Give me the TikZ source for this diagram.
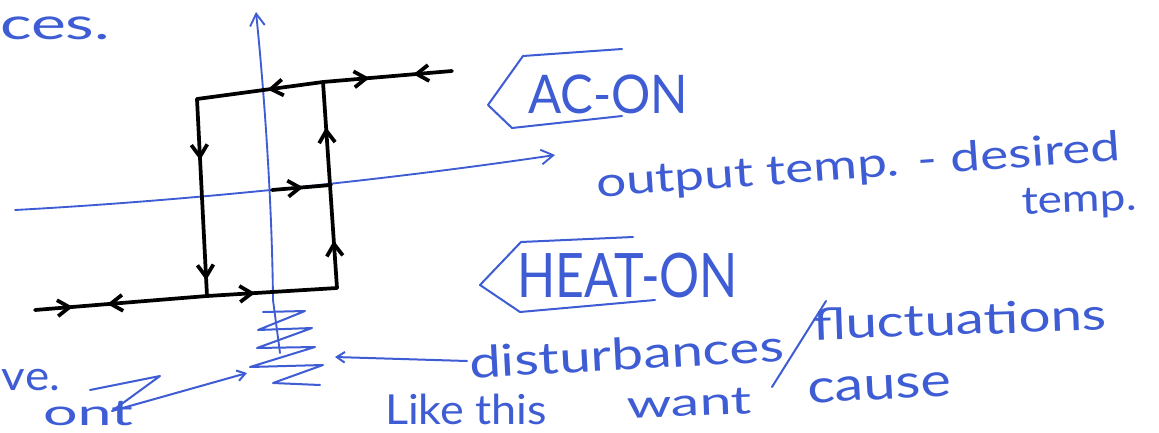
\documentclass[tikz,border=0pt]{standalone}
\usepackage{fontspec}
\setmainfont{Lato}
\usepackage{graphicx}
\usetikzlibrary{arrows.meta,decorations.markings}
\newlength\pxu \setlength\pxu{0.75pt}
\newcommand{\hw}[2]{\resizebox{#1\pxu}{\height}{#2}}
\newcommand{\fs}[1]{\fontsize{#1}{#1}\selectfont}
\definecolor{pen}{RGB}{62,92,212}
\begin{document}
\begin{tikzpicture}[x=0.75pt,y=-0.75pt,
  loopline/.style={line width=2.8pt, black, line cap=round, line join=round},
  axis/.style={pen, line width=1.4pt, line cap=round},
  ink/.style={pen, line width=1.5pt, line cap=round, line join=round},
  hand/.style={pen, inner sep=0pt, outer sep=0pt, anchor=base west},
  barb/.style={postaction={decorate, decoration={markings, mark=at position #1 with {\arrow{Straight Barb[length=9pt,width=12pt]}}}}},
  rbarb/.style={postaction={decorate, decoration={markings, mark=at position #1 with {\arrowreversed{Straight Barb[length=9pt,width=12pt]}}}}},
  axtip/.style={-{Straight Barb[length=9pt,width=11pt]}},
  smalltip/.style={-{Straight Barb[length=6pt,width=8pt]}}
]
\useasboundingbox (0,0) rectangle (1159,432);
\fill[white] (0,0) rectangle (1159,432);

% axes
\coordinate (vb) at (280,353);
\coordinate (vt) at (256,12);
\coordinate (hl) at (15,210);
\coordinate (hr) at (555,155);
\draw[axis, axtip] (vb) -- (273,300) .. controls (272,200) and (264,90) .. (vt);
\draw[axis, axtip] (hl) .. controls (200,200) and (400,178) .. (hr);

% hysteresis loop
\coordinate (TRe) at (452,71);
\coordinate (Rt) at (323,82);
\coordinate (TL) at (197,99);
\coordinate (BL) at (207,296);
\coordinate (BR) at (337,288);
\coordinate (BLe) at (35,310);
\coordinate (M1) at (272,190);
\coordinate (M2) at (331,185);
\draw[loopline, barb=0.30, rbarb=0.64] (TRe) -- (Rt);
\draw[loopline, barb=0.44] (Rt) -- (TL);
\draw[loopline, barb=0.31, barb=0.92] (TL) -- (BL);
\draw[loopline, barb=0.22, rbarb=0.42] (BLe) -- (BL);
\draw[loopline, barb=0.37] (BL) -- (BR);
\draw[loopline, barb=0.23, barb=0.78] (BR) -- (Rt);
\draw[loopline, barb=0.53] (M1) -- (M2);

% tags
\draw[ink] (622,49) -- (523,56) -- (488,105) -- (512,128) -- (622,116);
\draw[ink] (633,237) -- (521,242) -- (480,285) -- (520,312) -- (655,300);
\node[hand, font=\fs{40}] (ac) at (528,113) {\hw{160}{AC-ON}};
\node[hand, font=\fs{46}] (heat) at (517,297) {\hw{221}{HEAT-ON}};

% axis label
\node[hand, font=\fs{31}, rotate=4] (out) at (597,197) {\hw{525}{output temp. - desired}};
\node[hand, font=\fs{29}, rotate=2] (out2) at (1022,214) {\hw{115}{temp.}};

% spring and disturbance
\coordinate (zz) at (335,357);
\coordinate (ds) at (467,361);
\draw[ink] (263,312) -- (305,311) -- (258,330) -- (312,328) -- (257,348) -- (315,347) -- (250,367) -- (323,365) -- (273,383) -- (320,385);
\draw[ink, smalltip] (ds) -- (zz);
\node[hand, font=\fs{33}, rotate=3] (dist) at (470,378) {\hw{315}{disturbances}};
\draw[ink] (826,301) -- (772,387);
\node[hand, font=\fs{33}, rotate=2] (fluc) at (813,340) {\hw{294}{fluctuations}};
\node[hand, font=\fs{35}, rotate=3] (cause) at (808,403) {\hw{144}{cause}};
\node[hand, font=\fs{31}] (like) at (385,424) {\hw{162}{Like this}};
\node[hand, font=\fs{29}, rotate=2] (want) at (627,418) {\hw{125}{want}};

% left fragments
\node[hand, font=\fs{33}] (ces) at (0,40) {\hw{110}{ces.}};
\node[hand, font=\fs{31}] (ve) at (2,390) {\hw{58}{ve.}};
\node[hand, font=\fs{27}] (ont) at (43,425) {\hw{90}{ont}};
\coordinate (za) at (90,390);
\coordinate (zt) at (247,373);
\draw[ink, smalltip] (za) -- (160,376) -- (112,411) -- (zt);
\end{tikzpicture}
\end{document}
